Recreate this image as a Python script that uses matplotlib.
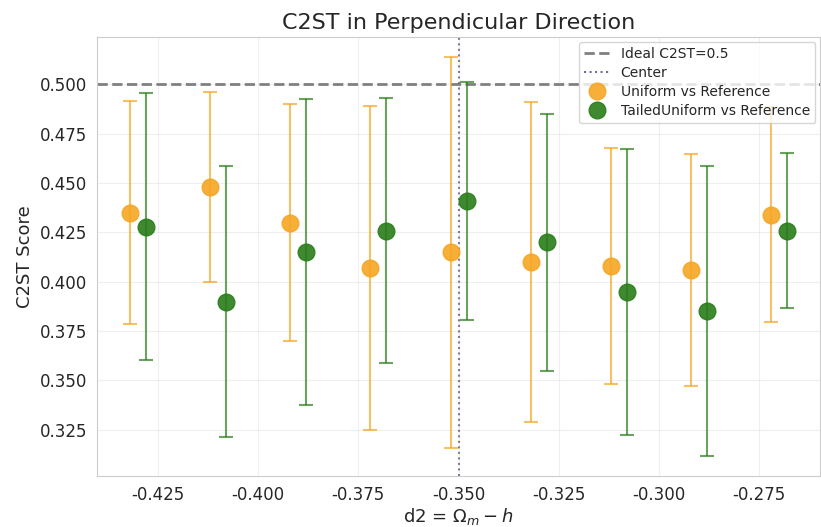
"""C2ST-Score entlang der senkrechten Richtung d2 = Omega_m - h."""

import matplotlib

matplotlib.use("Agg")
import matplotlib.pyplot as plt
import numpy as np
import seaborn as sns
from matplotlib.lines import Line2D

# Stützstellen entlang d2 (Mitte bei -0.35)
d2_centers = [-0.43, -0.41, -0.39, -0.37, -0.35, -0.33, -0.31, -0.29, -0.27]
center_d2 = -0.35
offset = 0.002

# Uniform vs Reference
uniform_mean = [0.435, 0.448, 0.430, 0.407, 0.415, 0.410, 0.408, 0.406, 0.434]
uniform_std = [0.0565, 0.048, 0.060, 0.082, 0.099, 0.081, 0.060, 0.059, 0.0545]

# TailedUniform vs Reference
tailed_mean = [0.428, 0.390, 0.415, 0.426, 0.441, 0.420, 0.395, 0.385, 0.426]
tailed_std = [0.0675, 0.0685, 0.0775, 0.067, 0.0605, 0.065, 0.0725, 0.0735, 0.0395]

ORANGE = "#f5a623"
GREEN = "#2a7d1a"

sns.set_style("whitegrid")
plt.rcParams["font.family"] = ["DejaVu Sans"]

fig, ax = plt.subplots(figsize=(8.21, 5.27), dpi=100)
fig.subplots_adjust(left=0.118, right=0.999, top=0.93, bottom=0.096)

x = np.array(d2_centers)

ax.axhline(0.5, color="gray", linestyle="--", linewidth=2, zorder=1)
ax.axvline(center_d2, color="#6f6f8f", linestyle=":", linewidth=1.5, alpha=0.9, zorder=1)

for xs, means, stds, col in (
    (x - offset, uniform_mean, uniform_std, ORANGE),
    (x + offset, tailed_mean, tailed_std, GREEN),
):
    ax.errorbar(
        xs, means, yerr=stds, fmt="none", ecolor=col, capsize=5,
        elinewidth=1.5, capthick=1.5, alpha=0.7, zorder=2,
    )
    ax.plot(xs, means, "o", color=col, markersize=12, alpha=0.9, zorder=3)

ax.set_title("C2ST in Perpendicular Direction", fontsize=16)
ax.set_xlabel(r"d2 = $\Omega_m - h$", fontsize=13, labelpad=1)
ax.set_ylabel("C2ST Score", fontsize=13)
ax.tick_params(axis="both", labelsize=12)
ax.set_xticks([-0.425, -0.400, -0.375, -0.350, -0.325, -0.300, -0.275])
ax.set_yticks([0.325, 0.350, 0.375, 0.400, 0.425, 0.450, 0.475, 0.500])
ax.yaxis.set_major_formatter(matplotlib.ticker.FormatStrFormatter("%.3f"))
ax.xaxis.set_major_formatter(matplotlib.ticker.FormatStrFormatter("%.3f"))
ax.grid(alpha=0.3)

handles = [
    Line2D([], [], color="gray", linestyle="--", linewidth=2),
    Line2D([], [], color="#6f6f8f", linestyle=":", linewidth=1.5),
    Line2D([], [], color=ORANGE, marker="o", linestyle="none", markersize=12, alpha=0.9),
    Line2D([], [], color=GREEN, marker="o", linestyle="none", markersize=12, alpha=0.9),
]
labels = ["Ideal C2ST=0.5", "Center", "Uniform vs Reference", "TailedUniform vs Reference"]
ax.legend(handles, labels, loc="upper right", fontsize=10, framealpha=0.8,
          borderaxespad=0.35, handlelength=1.8, labelspacing=0.35)

fig.savefig("out.png", dpi=100)
